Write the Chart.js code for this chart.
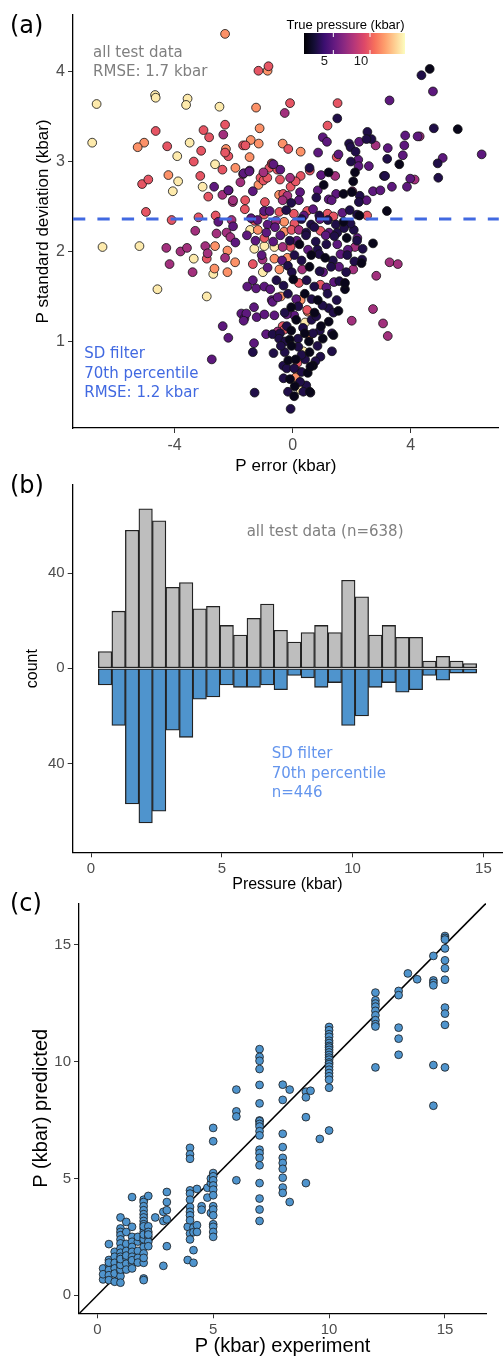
<!DOCTYPE html>
<html>
<head>
<meta charset="utf-8">
<script src="https://cdn.jsdelivr.net/npm/chart.js@4.4.0/dist/chart.umd.min.js"></script>
<style>
  body { margin: 0; background: #fff; }
  #wrap { position: relative; width: 504px; height: 1359px; }
  canvas { position: absolute; left: 0; }
</style>
</head>
<body>
<div id="wrap">
  <canvas id="chartA" width="504" height="480" style="top:0px"></canvas>
  <canvas id="chartB" width="504" height="435" style="top:465px"></canvas>
  <canvas id="chartC" width="504" height="474" style="top:885px"></canvas>
</div>
<script>
// ---- panel (a): P error vs P standard deviation, coloured by true pressure ----
const errTicks = [-4, 0, 4];
const sdTicks = [1, 2, 3, 4];
const sdCut = 2.36;               // 70th percentile SD filter
const pMin = 1.0, pMax = 14.77;   // colour bar range (kbar)
const barTicks = [5, 10];
const bandPressure = [1.6, 2.8, 4.9, 7.2, 9.7, 11.6, 14.2];

const ptsBlack = [[5.59,3.36],[3.61,2.97],[2.11,2.88],[2.05,2.78],[1.22,2.88],[1.05,2.74],[3.19,2.45],[2.72,2.09],[2.33,1.87],[1.77,1.58],
  [2.26,2.40],[1.72,2.33],[1.83,2.15],[1.10,1.93],[1.77,1.65],[4.64,4.03],[1.72,2.64],[2.00,2.66],[0.23,2.08],[0.63,1.96],
  [0.57,1.83],[0.02,1.69],[0.41,1.53],[0.85,1.46],[-0.05,1.38],[0.74,1.32],[0.12,1.24],[0.96,1.17],[-0.10,1.02],[0.41,1.09],
  [1.02,1.03],[-0.04,0.95],[0.57,0.88],[-0.15,0.79],[0.69,0.73],[-0.09,0.58],[0.51,0.65],[0.07,0.50],[0.58,0.44],[0.60,0.72],
  [0.05,0.39],[1.38,1.07],[1.22,1.22],[1.55,1.34],[0.10,0.80],[0.55,1.00],[-0.05,1.12]];
const ptsNavy = [[1.51,3.48],[4.36,3.96],[4.78,3.37],[4.91,2.98],[4.93,2.82],[3.20,3.03],[3.09,2.84],[2.53,3.33],[2.67,3.25],[2.50,3.25],
  [1.91,3.20],[1.96,3.16],[2.13,3.11],[1.97,3.00],[0.57,2.93],[2.27,2.62],[3.13,2.84],[-1.35,0.88],[-0.65,0.87],[-1.29,0.43],
  [-0.07,0.25],[-0.68,1.08],[2.35,1.91],[1.33,1.09],[1.49,1.46],[1.22,1.37],[0.92,1.12],[2.07,2.24],[-0.05,2.54],[0.80,2.60],
  [2.24,2.55],[-0.22,2.46],[0.90,2.40],[1.93,2.46],[2.18,2.41],[0.30,2.36],[0.62,2.30],[1.19,2.35],[1.46,2.30],[1.96,2.31],
  [0.46,2.21],[0.73,2.27],[1.51,2.21],[1.74,2.26],[-0.10,2.12],[0.45,2.18],[0.78,2.11],[1.41,2.17],[2.18,2.12],[0.84,2.02],
  [1.14,2.08],[2.37,2.03],[0.06,1.96],[0.30,1.90],[0.90,1.97],[1.36,1.90],[1.85,1.96],[2.09,1.89],[-0.16,1.84],[-0.03,1.77],
  [0.91,1.78],[1.30,1.83],[1.81,1.77],[-0.55,1.68],[-0.31,1.62],[0.47,1.68],[0.73,1.61],[1.58,1.67],[-0.16,1.53],[0.64,1.47],
  [1.18,1.53],[-0.27,1.32],[0.19,1.39],[1.01,1.40],[-0.20,1.17],[0.64,1.24],[-0.43,1.09],[0.18,1.03],[0.69,1.09],[-0.27,0.88],
  [0.19,0.94],[0.84,0.95],[-0.32,0.73],[0.42,0.80],[-0.31,0.59],[0.30,0.66],[-0.16,0.44],[0.46,0.51],[-0.46,1.03],[1.33,0.89],
  [0.94,0.83],[0.77,0.78],[0.60,0.43],[0.36,0.44],[-0.20,0.70],[1.38,1.32],[0.30,0.85],[-0.25,1.00],[0.05,0.70],[0.25,0.55],
  [0.35,1.15],[0.80,1.28],[-0.40,0.95]];
const ptsPurple = [[3.28,3.68],[4.75,3.78],[6.40,3.08],[5.08,3.04],[4.23,3.28],[3.81,3.29],[3.78,3.18],[3.73,3.07],[3.22,3.15],[3.98,2.81],
  [3.36,2.72],[3.87,2.72],[2.72,2.67],[2.97,2.68],[2.25,3.22],[2.22,3.02],[2.58,2.95],[2.23,2.95],[1.55,3.08],[1.02,3.27],
  [1.16,3.22],[0.86,3.10],[0.96,2.85],[0.85,2.68],[1.22,2.58],[1.47,2.64],[-0.42,2.91],[-0.65,2.97],[-1.35,2.67],[0.25,2.66],
  [-1.46,2.90],[-2.66,2.72],[-2.18,2.68],[-2.52,2.33],[-2.02,2.28],[-1.94,2.10],[-0.85,1.82],[-1.35,1.68],[-1.54,1.61],[-1.24,1.59],
  [-0.96,1.61],[-0.76,1.58],[-0.71,1.46],[-1.31,1.38],[-1.74,1.31],[-1.63,1.26],[-1.57,1.31],[-1.22,1.27],[-0.96,1.30],[-0.62,1.29],
  [-2.18,1.04],[-2.74,0.80],[-0.90,1.08],[-1.31,0.98],[-1.66,1.23],[-2.37,1.17],[2.19,2.15],[-1.66,2.87],[-1.47,2.89],[-1.41,2.37],
  [-1.19,2.35],[-0.97,2.45],[-0.78,2.45],[0.38,2.40],[0.69,2.47],[1.68,2.43],[-0.85,2.30],[0.92,2.36],[-0.89,2.21],[-0.60,2.27],
  [1.23,2.21],[-1.55,2.18],[-1.26,2.12],[-0.66,2.11],[-0.42,2.18],[0.14,2.12],[1.12,2.18],[0.52,2.02],[1.51,2.08],[1.87,2.02],
  [-1.05,1.96],[-0.36,1.90],[1.62,1.97],[1.03,1.77],[1.57,1.83],[1.14,1.60],[1.40,1.66],[0.12,1.47],[0.21,2.57],[1.32,2.57],
  [2.50,2.57],[-0.68,1.44],[-0.51,1.49],[0.05,1.29],[-0.20,1.30]];
const ptsMagenta = [[-0.27,3.54],[2.81,3.18],[1.44,2.84],[-0.99,2.88],[-0.09,2.82],[-0.18,2.62],[-1.68,2.86],[-1.77,2.77],[-2.35,3.30],[-2.38,2.63],
  [4.30,3.28],[4.13,2.80],[-2.07,2.35],[-3.30,2.23],[-2.58,2.20],[-2.24,2.21],[-2.11,2.16],[-2.96,2.06],[-2.88,1.98],[-2.29,1.93],
  [-4.28,2.04],[-3.80,2.00],[-3.58,2.04],[-4.17,1.86],[-3.39,1.77],[3.28,1.88],[3.56,1.86],[2.83,1.73],[2.72,1.36],[3.06,1.20],
  [3.22,1.06],[2.00,1.23],[-2.17,2.68],[-2.03,2.55],[-1.02,1.91],[2.02,2.67],[-2.02,2.57],[-0.34,2.57],[-0.57,2.34],[0.21,2.24],
  [-0.34,2.05],[2.11,2.05],[0.32,1.80],[2.05,1.80],[-0.51,1.11]];
const ptsRed = [[-1.16,4.01],[-0.82,4.06],[-0.09,3.65],[1.52,3.65],[1.18,3.40],[1.49,3.05],[0.58,2.90],[-0.15,3.14],[-0.71,2.98],[-0.79,2.93],
  [-1.09,2.82],[-0.43,2.80],[-0.07,2.72],[-0.32,2.64],[0.27,2.84],[0.10,2.78],[-2.38,2.91],[-2.18,3.06],[-2.29,3.10],[-2.29,3.41],
  [-3.02,3.35],[-2.83,3.27],[-3.10,3.12],[-3.35,3.00],[-3.13,2.84],[-4.25,3.17],[-4.64,3.34],[-5.10,2.75],[-4.89,2.80],[-1.68,3.18],
  [-1.60,3.18],[-4.97,2.44],[-4.10,2.35],[-3.19,2.38],[-2.61,2.40],[-2.91,1.92],[-1.35,1.86],[-0.34,1.17],[-2.86,2.61],[-1.62,2.47],
  [-0.99,2.79],[-0.86,2.82],[-0.69,2.97],[-0.52,2.91],[2.52,2.40],[-1.61,2.57],[-0.94,2.55],[-0.97,2.41],[-0.45,2.44],[0.04,2.42],
  [0.49,2.45],[1.18,2.42],[1.38,2.39],[-1.29,2.34],[0.06,2.31],[-0.04,2.24],[0.94,2.23],[-0.96,2.15],[-0.07,2.05],[0.21,1.65],
  [0.94,1.63],[0.49,1.35],[-0.29,1.13],[0.16,0.76]];
const ptsOrange = [[-2.29,4.42],[-0.85,4.01],[-1.24,3.60],[0.27,3.11],[-0.34,3.20],[-1.16,2.74],[-0.46,2.63],[-1.94,2.93],[-2.26,3.14],[-4.21,2.85],
  [-5.03,3.21],[-5.25,3.16],[-1.42,3.24],[-1.12,3.37],[-1.15,3.20],[-1.46,3.05],[-2.63,2.06],[-2.21,2.01],[-1.95,1.88],[-2.65,1.81],
  [-2.21,1.77],[-1.18,2.24],[-0.29,2.33],[-0.29,2.22],[-0.62,1.92],[-0.18,1.93],[-0.45,1.80],[-0.40,1.50],[0.58,1.07],[0.16,0.67],
  [0.51,1.33],[0.27,1.46],[0.10,0.60]];
const ptsYellow = [[-6.64,3.64],[-6.79,3.21],[-4.66,3.74],[-4.64,3.71],[-3.56,3.70],[-3.61,3.63],[-2.48,3.61],[-2.63,2.97],[-3.49,3.21],[-3.91,3.06],
  [-3.88,2.78],[-4.06,2.67],[-3.05,2.72],[-5.19,2.06],[-6.44,2.05],[-3.35,1.92],[-2.69,1.75],[-4.58,1.58],[-2.91,1.50],[-1.01,1.77],
  [-1.44,2.24],[-1.30,2.03],[-0.96,2.06],[-0.62,2.05],[0.42,1.21],[0.36,0.89],[0.27,0.46]];

// ---- panel (b): histogram of true pressure, all data vs SD-filtered ----
const binMid = [0.538,1.055,1.571,2.088,2.604,3.121,3.637,4.154,4.670,5.187,5.703,6.220,6.736,7.253,
  7.769,8.286,8.802,9.319,9.835,10.352,10.868,11.385,11.901,12.418,12.934,13.451,13.967,14.484];
const countAll = [7,24,58,67,62,34,36,25,26,18,14,21,27,16,11,15,18,15,37,30,14,18,13,13,3,5,3,2];
const countFiltered = [7,24,57,65,60,26,29,13,12,7,8,8,7,9,3,4,8,6,24,20,8,6,10,9,3,5,2,2];
const pressureTicks = [0, 5, 10, 15];
const countTicks = [-40, 0, 40];

// ---- panel (c): predicted vs experimental pressure ----
const expP = [0.25,0.5,0.75,1.0,1.25,1.5,1.75,2.0,2.2,2.5,2.85,3.0,3.9,4.0,4.15,4.3,4.5,4.75,4.9,5.0,
  6.0,7.0,8.0,8.3,9.0,9.2,9.6,10.0,12.0,13.0,13.4,13.8,14.5,15.0];
const predP = [
  [1.15,0.68,0.90],
  [2.19,1.51,1.29,1.08,0.86,0.65,1.40],
  [1.86,1.65,1.39,1.15,0.93,0.58],
  [3.33,2.86,2.71,2.57,2.39,2.22,2.00,1.82,1.65,1.43,1.22,1.01,0.82,0.54,1.10,1.30,1.55],
  [3.14,2.71,2.20,1.90,1.60,1.35,1.10,1.70],
  [4.20,2.93,2.50,2.29,2.07,1.86,1.65,1.39,1.15,1.50],
  [1.90,1.60,1.40,2.30,2.50],
  [4.09,3.99,3.81,3.64,3.47,3.33,3.18,3.04,2.86,2.71,2.50,2.29,2.07,1.79,1.39,0.72,0.65,2.40,2.60,1.60,2.95],
  [4.25,2.95,2.71,2.50,2.29,2.60,2.10],
  [3.33],
  [3.57,3.18,1.26],
  [4.42,3.99,3.64,3.25,2.10],
  [2.93,1.51],
  [6.31,6.03,5.84,4.49,4.35,4.09,3.78,3.57,3.42,3.21,2.64,2.39],
  [1.93,1.39,2.90,2.70],
  [4.55,3.00,2.71],
  [3.81,3.66],
  [4.18,4.60],
  [4.80,3.52,5.00],
  [7.16,6.59,5.23,5.09,4.92,4.70,4.52,4.28,3.81,3.67,3.42,3.04,2.93,2.71,2.50],
  [8.80,7.87,7.65,4.92],
  [10.53,10.20,10.03,9.68,9.00,8.21,7.48,7.45,7.33,7.22,7.02,6.84,6.23,6.08,5.88,5.56,4.80,4.14,3.67,3.18],
  [9.01,8.36,6.91,6.34,5.88,5.66,5.41,5.03,4.61,4.38],
  [8.80,3.99],
  [8.71,8.47,7.62,4.80],
  [8.75],
  [6.69],
  [11.48,11.34,11.17,11.06,10.89,10.79,10.67,10.60,10.50,10.39,10.28,10.17,10.08,9.96,9.89,9.78,9.65,9.51,9.37,9.22,8.88,7.05],
  [12.95,12.62,12.48,12.35,12.17,11.98,11.77,11.60,11.50,9.75],
  [13.02,12.84,11.45,10.98,10.29],
  [13.77],
  [13.52],
  [14.52,13.47,13.37,13.26,9.85,8.11],
  [15.37,15.29,15.22,14.84,14.33,13.99,13.50,12.31,12.05,11.57,9.75]
];
const cTicks = [0, 5, 10, 15];

// ---- styling helpers ----
const AX = '"Liberation Sans", Arial, sans-serif';
const ANN = '"DejaVu Sans", Verdana, sans-serif';
const magmaStops = ['#000004','#140E36','#3B0F70','#641A80','#8C2981','#B73779','#DE4968','#F7705C','#FE9F6D','#FECF92','#FCFDBF'];

function hexRgb(h) {
  return [parseInt(h.slice(1, 3), 16), parseInt(h.slice(3, 5), 16), parseInt(h.slice(5, 7), 16)];
}
function magma(t) {
  t = Math.max(0, Math.min(1, t));
  const n = magmaStops.length - 1;
  const i = Math.min(Math.floor(t * n), n - 1);
  const u = t * n - i;
  const a = hexRgb(magmaStops[i]), b = hexRgb(magmaStops[i + 1]);
  return 'rgb(' + a.map((v, k) => Math.round(v + (b[k] - v) * u)).join(',') + ')';
}
const pColor = p => magma((p - pMin) / (pMax - pMin));

function axis(o) {
  return {
    type: 'linear',
    min: o.min, max: o.max,
    offset: false,
    afterBuildTicks: s => { s.ticks = o.ticks.map(v => ({ value: v })); },
    afterFit: s => { if (o.width) s.width = o.width; if (o.height) s.height = o.height; },
    grid: { drawOnChartArea: false, drawTicks: true, tickLength: 5, color: '#333', lineWidth: 1, offset: false },
    border: { display: true, color: '#000', width: 1.3 },
    ticks: { font: { family: AX, size: o.tickSize }, color: '#4d4d4d', padding: 3, callback: o.cb || (v => String(v)) },
    title: { display: true, text: o.title, color: '#000', font: { family: AX, size: o.titleSize }, padding: o.titlePad }
  };
}

const base = {
  responsive: false,
  animation: false,
  devicePixelRatio: 1,
  plugins: { legend: { display: false }, tooltip: { enabled: false } }
};

// ---- chart (a) ----
const panelA = {
  id: 'panelA',
  afterDatasetsDraw(chart) {
    const { ctx, chartArea: ca, scales: { x, y } } = chart;
    ctx.save();
    // SD filter threshold
    const yy = y.getPixelForValue(sdCut);
    ctx.strokeStyle = '#4169E1';
    ctx.lineWidth = 3;
    ctx.setLineDash([12.3, 12.1]);
    ctx.beginPath(); ctx.moveTo(ca.left, yy); ctx.lineTo(ca.right, yy); ctx.stroke();
    ctx.setLineDash([]);

    ctx.font = '15px ' + ANN;
    ctx.textAlign = 'left';
    ctx.textBaseline = 'middle';
    ctx.fillStyle = '#7f7f7f';
    ctx.fillText('all test data', x.getPixelForValue(-6.76), y.getPixelForValue(4.21));
    ctx.fillText('RMSE: 1.7 kbar', x.getPixelForValue(-6.76), y.getPixelForValue(3.99));
    ctx.fillStyle = '#4169E1';
    ctx.fillText('SD filter', x.getPixelForValue(-7.06), y.getPixelForValue(0.86));
    ctx.fillText('70th percentile', x.getPixelForValue(-7.06), y.getPixelForValue(0.64));
    ctx.fillText('RMSE: 1.2 kbar', x.getPixelForValue(-7.06), y.getPixelForValue(0.43));

    // colour bar
    const bx = 304, bw = 101, by = 33, bh = 21;
    const g = ctx.createLinearGradient(bx, 0, bx + bw, 0);
    magmaStops.forEach((c, i) => g.addColorStop(i / (magmaStops.length - 1), c));
    ctx.fillStyle = g;
    ctx.fillRect(bx, by, bw, bh);
    ctx.strokeStyle = '#fff';
    ctx.lineWidth = 1;
    ctx.font = '13px ' + AX;
    ctx.textAlign = 'center';
    barTicks.forEach(p => {
      const tx = bx + (p - pMin) / (pMax - pMin) * bw;
      ctx.beginPath();
      ctx.moveTo(tx, by); ctx.lineTo(tx, by + 4);
      ctx.moveTo(tx, by + bh - 4); ctx.lineTo(tx, by + bh);
      ctx.stroke();
      ctx.fillStyle = '#1a1a1a';
      ctx.fillText(String(p), tx - 9, 61);
    });
    ctx.fillStyle = '#000';
    ctx.fillText('True pressure (kbar)', 345.5, 25);

    ctx.font = '24px ' + ANN;
    ctx.textAlign = 'left';
    ctx.textBaseline = 'alphabetic';
    ctx.fillText('(a)', 10, 33);
    ctx.restore();
  }
};

new Chart(document.getElementById('chartA'), {
  type: 'scatter',
  data: {
    datasets: [ptsBlack, ptsNavy, ptsPurple, ptsMagenta, ptsRed, ptsOrange, ptsYellow].map((pts, i) => ({
      data: pts.map(p => ({ x: p[0], y: p[1] })),
      backgroundColor: pColor(bandPressure[i]),
      borderColor: '#111',
      borderWidth: 0.8,
      pointRadius: 4.4
    }))
  },
  options: {
    ...base,
    layout: { padding: { top: 15, right: 0, left: 0, bottom: 0 } },
    scales: {
      x: axis({ min: -7.44, max: 6.98, ticks: errTicks, height: 52, tickSize: 16, title: 'P error (kbar)', titleSize: 17, titlePad: { top: 0, bottom: 3.8 } }),
      y: axis({ min: 0.037, max: 4.63, ticks: sdTicks, width: 73, tickSize: 16, title: 'P standard deviation (kbar)', titleSize: 17, titlePad: { top: 32.8, bottom: 0 } })
    }
  },
  plugins: [panelA]
});

// ---- chart (b) ----
const panelB = {
  id: 'panelB',
  afterDatasetsDraw(chart) {
    const { ctx, scales: { x, y } } = chart;
    ctx.save();
    ctx.font = '15px ' + ANN;
    ctx.textAlign = 'left';
    ctx.textBaseline = 'middle';
    ctx.fillStyle = '#808080';
    ctx.fillText('all test data (n=638)', x.getPixelForValue(5.95), y.getPixelForValue(57));
    ctx.fillStyle = '#6495ED';
    ctx.fillText('SD filter', x.getPixelForValue(6.91), y.getPixelForValue(-36.1));
    ctx.fillText('70th percentile', x.getPixelForValue(6.91), y.getPixelForValue(-44.4));
    ctx.fillText('n=446', x.getPixelForValue(6.91), y.getPixelForValue(-52.5));
    ctx.fillStyle = '#000';
    ctx.font = '24px ' + ANN;
    ctx.textBaseline = 'alphabetic';
    ctx.fillText('(b)', 10, 28);
    ctx.restore();
  }
};

const barStyle = { borderColor: '#222', borderWidth: 1.3, borderSkipped: false, grouped: false, barPercentage: 1, categoryPercentage: 1 };
new Chart(document.getElementById('chartB'), {
  type: 'bar',
  data: {
    datasets: [
      { ...barStyle, data: binMid.map((m, i) => ({ x: m, y: countAll[i] })), backgroundColor: '#BEBEBE' },
      { ...barStyle, data: binMid.map((m, i) => ({ x: m, y: -countFiltered[i] })), backgroundColor: '#4F94CD' }
    ]
  },
  options: {
    ...base,
    layout: { padding: { top: 20, right: 2, left: 0, bottom: 0 } },
    scales: {
      x: axis({ min: -0.70, max: 15.71, ticks: pressureTicks, height: 47.7, tickSize: 15, title: 'Pressure (kbar)', titleSize: 16, titlePad: { top: 0, bottom: 5.4 } }),
      y: axis({ min: -77.3, max: 77.0, ticks: countTicks, width: 72.7, tickSize: 15, title: 'count', titleSize: 16, titlePad: { top: 23.4, bottom: 0 }, cb: v => String(Math.abs(v)) })
    }
  },
  plugins: [panelB]
});

// ---- chart (c) ----
const panelC = {
  id: 'panelC',
  beforeDatasetsDraw(chart) {
    const { ctx, chartArea: ca, scales: { x, y } } = chart;
    const lo = Math.max(x.min, y.min), hi = Math.min(x.max, y.max);
    ctx.save();
    ctx.beginPath(); ctx.rect(ca.left, ca.top, ca.width, ca.height); ctx.clip();
    ctx.strokeStyle = '#000';
    ctx.lineWidth = 1.6;
    ctx.beginPath();
    ctx.moveTo(x.getPixelForValue(lo), y.getPixelForValue(lo));
    ctx.lineTo(x.getPixelForValue(hi), y.getPixelForValue(hi));
    ctx.stroke();
    ctx.restore();
  },
  afterDatasetsDraw(chart) {
    const { ctx } = chart;
    ctx.save();
    ctx.fillStyle = '#000';
    ctx.font = '24px ' + ANN;
    ctx.fillText('(c)', 10, 26);
    ctx.restore();
  }
};

new Chart(document.getElementById('chartC'), {
  type: 'scatter',
  data: {
    datasets: [{
      data: expP.flatMap((e, i) => predP[i].map(p => ({ x: e, y: p }))),
      backgroundColor: '#4F94CD',
      borderColor: '#1a1a1a',
      borderWidth: 0.8,
      pointRadius: 3.9
    }]
  },
  options: {
    ...base,
    layout: { padding: { top: 18.3, right: 18, left: 0, bottom: 0 } },
    scales: {
      x: axis({ min: -0.79, max: 16.77, ticks: cTicks, height: 45.7, tickSize: 15, title: 'P (kbar) experiment', titleSize: 20, titlePad: { top: 0, bottom: 0.5 } }),
      y: axis({ min: -0.77, max: 16.77, ticks: cTicks, width: 79, tickSize: 15, title: 'P (kbar) predicted', titleSize: 20, titlePad: { top: 29, bottom: 0 } })
    }
  },
  plugins: [panelC]
});
</script>
</body>
</html>
